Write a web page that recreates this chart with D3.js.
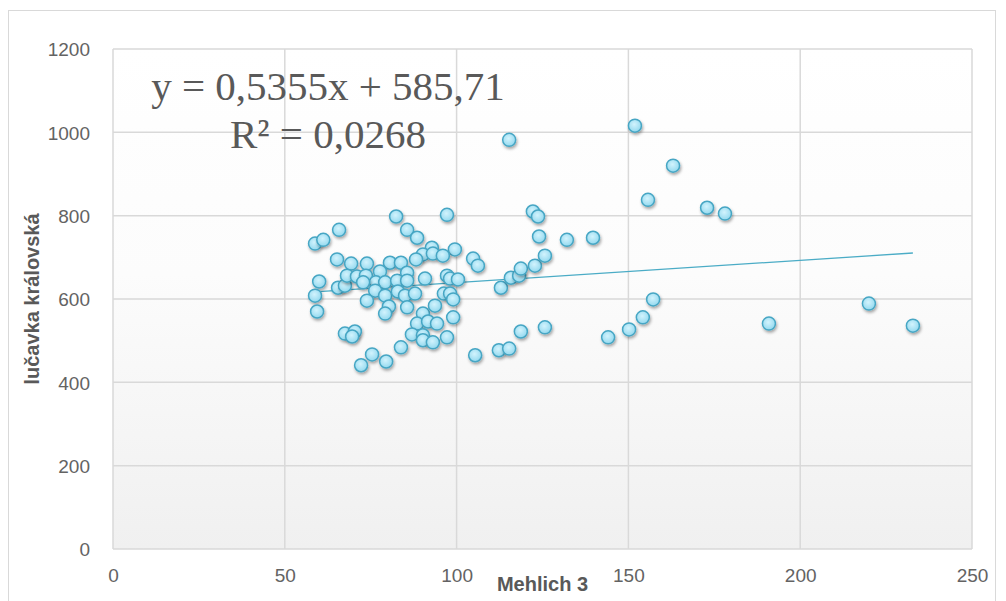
<!DOCTYPE html>
<html>
<head>
<meta charset="utf-8">
<script src="https://cdn.jsdelivr.net/npm/d3@7"></script>
<style>
  html, body { margin: 0; padding: 0; background: #fff; }
  svg { display: block; }
</style>
</head>
<body>
<svg id="chart" width="1006" height="601"></svg>
<script>
// Mehlich 3 (x) and lučavka královská (y)
var mehlich3 = [
  58.8, 61.2, 65.8, 82.4, 97.2, 85.6, 88.5, 92.8, 99.5, 90.2,
  93.1, 96.0, 88.2, 104.8, 106.2, 65.2, 69.3, 73.9, 80.6, 83.8,
  60.0, 65.5, 67.5, 68.1, 71.0, 73.6, 77.7, 76.5, 79.2, 72.8,
  82.7, 85.6, 85.6, 90.8, 97.2, 98.1, 100.4, 58.8, 76.3, 79.2,
  73.9, 82.9, 85.0, 87.9, 96.3, 98.1, 99.0, 59.4, 80.3, 79.2,
  85.6, 90.2, 93.7, 99.0, 88.5, 91.7, 94.3, 67.5, 70.4, 69.6,
  87.0, 90.2, 90.2, 93.1, 97.2, 83.8, 75.4, 79.5, 72.2,
  112.9, 115.8, 118.2, 118.7, 122.8, 125.7, 122.2, 123.7, 124.0, 132.1,
  139.7, 115.3, 151.9, 163.0, 155.7, 172.9, 178.1, 105.4, 112.3, 115.3,
  118.7, 125.7, 144.1, 150.2, 154.2, 157.2, 190.9, 220.0, 232.8
];
var lucavka = [
  733, 742, 766, 798, 802, 766, 747, 723, 719, 707,
  709, 704, 695, 697, 680, 695, 685, 685, 687, 687,
  642, 627, 632, 656, 654, 656, 666, 640, 640, 640,
  644, 663, 644, 649, 656, 649, 647, 608, 620, 608,
  596, 618, 608, 613, 613, 613, 599, 570, 582, 565,
  580, 565, 584, 556, 541, 546, 541, 517, 522, 510,
  515, 513, 501, 496, 508, 484, 467, 450, 441,
  627, 651, 656, 673, 680, 704, 810, 798, 750, 742,
  747, 982, 1016, 920, 838, 819, 805, 465, 477, 481,
  522, 532, 508, 527, 556, 599, 541, 589, 536
];

var xTicks = [0, 50, 100, 150, 200, 250];
var yTicks = [0, 200, 400, 600, 800, 1000, 1200];

// trendline as printed on the chart
var slope = 0.5355, intercept = 585.71;
var eqLines = ["y = 0,5355x + 585,71", "R\u00B2 = 0,0268"];

var xTitle = "Mehlich 3";
var yTitle = "lu\u010Davka kr\u00E1lovsk\u00E1";

var plot = { left: 113, right: 972, top: 49, bottom: 549 };

var svg = d3.select("#chart");
var defs = svg.append("defs");

var bg = defs.append("linearGradient").attr("id", "plotBg")
  .attr("x1", 0).attr("y1", 0).attr("x2", 0).attr("y2", 1);
bg.append("stop").attr("offset", "0%").attr("stop-color", "#ffffff");
bg.append("stop").attr("offset", "45%").attr("stop-color", "#fcfcfc");
bg.append("stop").attr("offset", "100%").attr("stop-color", "#f0f0f0");

var dotFill = defs.append("radialGradient").attr("id", "dotFill")
  .attr("cx", "45%").attr("cy", "40%").attr("r", "60%");
dotFill.append("stop").attr("offset", "0%").attr("stop-color", "#d2f3fd");
dotFill.append("stop").attr("offset", "100%").attr("stop-color", "#93d9ef");

var shadow = defs.append("filter").attr("id", "shadow")
  .attr("x", "-50%").attr("y", "-50%").attr("width", "200%").attr("height", "200%");
shadow.append("feDropShadow").attr("dx", 1).attr("dy", 2)
  .attr("stdDeviation", 1.4).attr("flood-color", "#000").attr("flood-opacity", 0.35);

// outer chart border
svg.append("rect")
  .attr("x", 8.5).attr("y", 10.5).attr("width", 987).attr("height", 620)
  .attr("fill", "#fff").attr("stroke", "#d9d9d9").attr("stroke-width", 1);

var x = d3.scaleLinear().domain([0, 250]).range([plot.left, plot.right]);
var y = d3.scaleLinear().domain([0, 1200]).range([plot.bottom, plot.top]);

svg.append("rect")
  .attr("x", plot.left).attr("y", plot.top)
  .attr("width", plot.right - plot.left).attr("height", plot.bottom - plot.top)
  .attr("fill", "url(#plotBg)");

// grid
var grid = svg.append("g").attr("stroke", "#d9d9d9").attr("stroke-width", 1.5);
grid.selectAll("line.h").data(yTicks).enter().append("line")
  .attr("x1", plot.left).attr("x2", plot.right)
  .attr("y1", function (d) { return y(d); }).attr("y2", function (d) { return y(d); });
grid.selectAll("line.v").data(xTicks).enter().append("line")
  .attr("y1", plot.top).attr("y2", plot.bottom)
  .attr("x1", function (d) { return x(d); }).attr("x2", function (d) { return x(d); });

// axes (labels only, no domain line)
var yAxis = svg.append("g")
  .attr("transform", "translate(" + (plot.left - 23) + ",0)")
  .call(d3.axisLeft(y).tickValues(yTicks).tickSize(0).tickPadding(0).tickFormat(d3.format("d")));
var xAxis = svg.append("g")
  .attr("transform", "translate(0," + (plot.bottom + 18) + ")")
  .call(d3.axisBottom(x).tickValues(xTicks).tickSize(0).tickPadding(0).tickFormat(d3.format("d")));
[xAxis, yAxis].forEach(function (a) {
  a.select(".domain").remove();
  a.selectAll("text")
    .attr("fill", "#636363")
    .style("font-family", "'Liberation Sans', Arial, sans-serif")
    .style("font-size", "19px");
});
yAxis.selectAll("text").attr("dy", "0.36em");
xAxis.selectAll("text").attr("dy", "0.8em");

// trendline over the x range of the data
var xr = d3.extent(mehlich3);
svg.append("line")
  .attr("x1", x(xr[0])).attr("y1", y(slope * xr[0] + intercept))
  .attr("x2", x(xr[1])).attr("y2", y(slope * xr[1] + intercept))
  .attr("stroke", "#4bacc6").attr("stroke-width", 1.3);

// points
svg.append("g").selectAll("circle")
  .data(mehlich3.map(function (v, i) { return [v, lucavka[i]]; }))
  .enter().append("circle")
  .attr("cx", function (d) { return x(d[0]); })
  .attr("cy", function (d) { return y(d[1]); })
  .attr("r", 6.5)
  .attr("fill", "url(#dotFill)")
  .attr("stroke", "#46a6c4")
  .attr("stroke-width", 1.5)
  .attr("filter", "url(#shadow)");

// equation label
svg.append("g").selectAll("text").data(eqLines).enter().append("text")
  .attr("x", 328)
  .attr("y", function (d, i) { return 100 + i * 48; })
  .attr("text-anchor", "middle")
  .attr("fill", "#595959")
  .style("font-family", "'Liberation Serif', 'Times New Roman', serif")
  .style("font-size", "41px")
  .text(function (d) { return d; });

// axis titles
svg.append("text")
  .attr("x", (plot.left + plot.right) / 2).attr("y", 591)
  .attr("text-anchor", "middle").attr("fill", "#595959")
  .style("font-family", "'Liberation Sans', Arial, sans-serif")
  .style("font-size", "20px").style("font-weight", "bold")
  .text(xTitle);

svg.append("text")
  .attr("transform", "translate(39," + (plot.top + plot.bottom) / 2 + ") rotate(-90)")
  .attr("text-anchor", "middle").attr("fill", "#595959")
  .style("font-family", "'Liberation Sans', Arial, sans-serif")
  .style("font-size", "20px").style("font-weight", "bold")
  .text(yTitle);
</script>
</body>
</html>
